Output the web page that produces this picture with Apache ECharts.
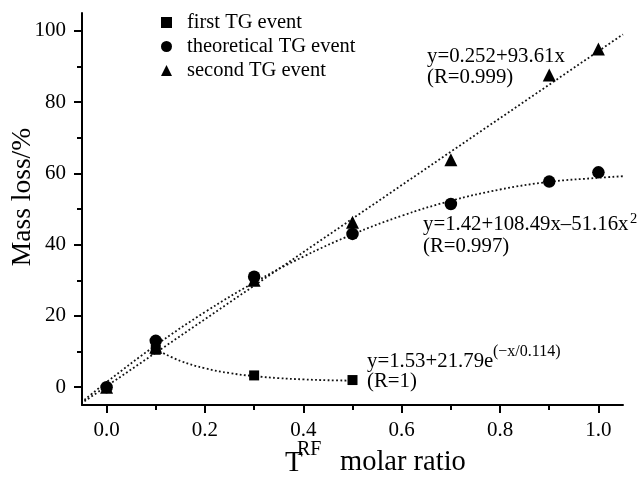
<!DOCTYPE html>
<html>
<head>
<meta charset="utf-8">
<script src="https://cdn.jsdelivr.net/npm/echarts@6/dist/echarts.min.js"></script>
<style>
  html, body { margin: 0; padding: 0; background: #fff; }
  #chart { width: 639px; height: 477px; }
</style>
</head>
<body>
<div id="chart"></div>
<script>
var FONT = 'Liberation Serif';

// tick values
var xTicksMajor = [0, 0.2, 0.4, 0.6, 0.8, 1.0];
var xTicksMinor = [0.1, 0.3, 0.5, 0.7, 0.9];
var yTicksMajor = [0, 20, 40, 60, 80, 100];
var yTicksMinor = [10, 30, 50, 70, 90];

// measured points
var firstX = [0.1, 0.3, 0.5];
var firstY = [10.5, 3.3, 2.0];
var theoX = [0, 0.1, 0.3, 0.5, 0.7, 0.9, 1.0];
var theoY = [0, 13.0, 31.0, 43.0, 51.4, 57.7, 60.3];
var secondX = [0, 0.1, 0.3, 0.5, 0.7, 0.9, 1.0];
var secondY = [0, 11.2, 30.0, 46.3, 63.8, 87.6, 94.9];

// fitted curves
var linFitX = [-0.045, 1.05];
var linFitY = [-3.96, 99.0];
var quadFitX = [-0.045, 0, 0.1, 0.2, 0.3, 0.4, 0.5, 0.6, 0.7, 0.8, 0.9, 1.0, 1.05];
var quadFitY = [-3.56, 1.42, 11.76, 21.07, 29.37, 36.63, 42.88, 48.09, 52.29, 55.47, 57.62, 58.75, 59.2];
var expFitX = [0.1, 0.15, 0.2, 0.25, 0.3, 0.35, 0.4, 0.45, 0.5];
var expFitY = [10.6, 7.37, 5.30, 3.96, 3.10, 2.54, 2.18, 1.95, 1.85];

function pairs(xs, ys) {
    return xs.map(function(x, i) { return [x, ys[i]]; });
}

var myChart = echarts.init(document.getElementById('chart'));

var dotted = { color: '#111', width: 1.8, type: [1.8, 2.4] };
var tickLine = { color: '#000', width: 2 };
var labelStyle = { color: '#000', fontFamily: FONT, fontSize: 21 };

function baseAxis(extra) {
    var ax = {
        type: 'value',
        splitLine: { show: false },
        axisLine: { show: true, onZero: false, lineStyle: { color: '#000', width: 2 } }
    };
    return Object.assign(ax, extra);
}

function txt(x, y, s, size) {
    return {
        type: 'text', x: x, y: y, z: 10,
        style: { text: s, font: size + 'px "Liberation Serif"', fill: '#000', align: 'left', verticalAlign: 'middle' }
    };
}

var option = {
    animation: false,
    backgroundColor: '#fff',
    grid: { left: 82, right: 16, top: 13, bottom: 72, containLabel: false },
    xAxis: [
        baseAxis({
            min: -0.05, max: 1.05, position: 'bottom',
            axisTick: { customValues: xTicksMajor, length: 8, lineStyle: tickLine },
            axisLabel: Object.assign({
                customValues: xTicksMajor, margin: 15,
                formatter: function(v) { return v.toFixed(1); }
            }, labelStyle)
        }),
        baseAxis({
            min: -0.05, max: 1.05, position: 'bottom',
            axisLine: { show: false, onZero: false },
            axisTick: { customValues: xTicksMinor, length: 5, lineStyle: tickLine },
            axisLabel: { show: false }
        })
    ],
    yAxis: [
        baseAxis({
            min: -5, max: 105, position: 'left',
            axisTick: { customValues: yTicksMajor, length: 8, lineStyle: tickLine },
            axisLabel: Object.assign({ customValues: yTicksMajor, margin: 16 }, labelStyle)
        }),
        baseAxis({
            min: -5, max: 105, position: 'left',
            axisLine: { show: false, onZero: false },
            axisTick: { customValues: yTicksMinor, length: 5, lineStyle: tickLine },
            axisLabel: { show: false }
        })
    ],
    legend: {
        orient: 'vertical',
        left: 161,
        top: 12,
        padding: 0,
        itemWidth: 11,
        itemHeight: 11,
        itemGap: 3,
        textStyle: { color: '#000', fontFamily: FONT, fontSize: 20.5, lineHeight: 20, padding: [0, 0, 0, 10] },
        data: [
            { name: 'first TG event', icon: 'rect' },
            { name: 'theoretical TG event', icon: 'circle' },
            { name: 'second TG event', icon: 'triangle' }
        ]
    },
    series: [
        { name: 'lin fit', type: 'line', data: pairs(linFitX, linFitY), showSymbol: false, lineStyle: dotted, z: 1 },
        { name: 'quad fit', type: 'line', data: pairs(quadFitX, quadFitY), smooth: 0.4, showSymbol: false, lineStyle: dotted, z: 1 },
        { name: 'exp fit', type: 'line', data: pairs(expFitX, expFitY), smooth: 0.4, showSymbol: false, lineStyle: dotted, z: 1 },
        {
            name: 'first TG event', type: 'scatter', symbol: 'rect', symbolSize: 10,
            itemStyle: { color: '#000', opacity: 1 }, data: pairs(firstX, firstY), z: 3
        },
        {
            name: 'theoretical TG event', type: 'scatter', symbol: 'circle', symbolSize: 12.5,
            itemStyle: { color: '#000', opacity: 1 }, data: pairs(theoX, theoY), z: 3
        },
        {
            name: 'second TG event', type: 'scatter', symbol: 'triangle', symbolSize: 13,
            itemStyle: { color: '#000', opacity: 1 }, data: pairs(secondX, secondY), z: 3
        }
    ],
    graphic: [
        // axis titles
        { type: 'text', x: 23, y: 197, rotation: Math.PI / 2, z: 10,
          style: { text: 'Mass loss/%', font: '27.5px "Liberation Serif"', fill: '#000', align: 'center', verticalAlign: 'middle' } },
        txt(285, 463, 'T', 29),
        txt(297, 450, 'RF', 20),
        txt(340, 463, 'molar ratio', 28.5),
        // fit annotations
        txt(427, 57, 'y=0.252+93.61x', 20.8),
        txt(427, 78, '(R=0.999)', 20.8),
        txt(423, 225, 'y=1.42+108.49x\u201351.16x', 20.8),
        txt(630, 219, '2', 14.5),
        txt(423, 247, '(R=0.997)', 20.8),
        txt(367, 362, 'y=1.53+21.79e', 20.8),
        txt(493, 352, '(\u2212x/0.114)', 16),
        txt(367, 382, '(R=1)', 20.8)
    ]
};

myChart.setOption(option);
</script>
</body>
</html>
